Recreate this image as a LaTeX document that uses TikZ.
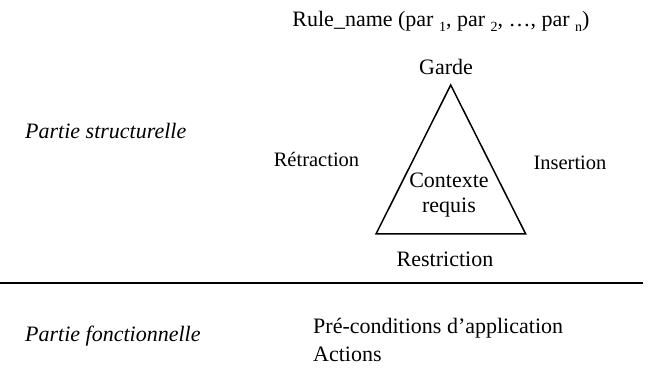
\documentclass[tikz,border=0pt]{standalone}
\usepackage{fontspec}
\setmainfont{Liberation Serif}
\usetikzlibrary{positioning}
\newcommand{\lowidx}[1]{\raisebox{-5pt}{\fontsize{14}{14}\selectfont #1}}
\begin{document}
\begin{tikzpicture}[x=1pt,y=1pt,every node/.style={inner sep=0pt,font=\fontsize{22}{26}\selectfont},side/.style={font=\fontsize{20.5}{24}\selectfont,anchor=base},part/.style={font=\fontsize{22}{26}\selectfont\itshape,anchor=base west}]
  \useasboundingbox (0,0) rectangle (651,372);
  \coordinate (top) at (450.7,287);
  \coordinate (bl) at (376,138);
  \coordinate (br) at (525.7,138);
  \node[anchor=base] (rule) at (441,345) {Rule\_name (par \lowidx{1}, par \lowidx{2}, …, par \lowidx{n})};
  \node[anchor=base] (garde) at (446,297) {Garde};
  \node[align=center,font=\fontsize{22}{25}\selectfont] (ctx) at (449,177) {Contexte\\requis};
  \node[anchor=base] (restr) at (445,105) {Restriction};
  \node[side] (retr) at (316.5,205) {Rétraction};
  \node[side] (ins) at (570,202) {Insertion};
  \node[part] (struct) at (25,233) {Partie structurelle};
  \node[part] (fonct) at (25,30) {Partie fonctionnelle};
  \node[anchor=base west] (pre) at (313,38) {Pré-conditions d’application};
  \node[below=8pt of pre.south west,anchor=north west] (act) {Actions};
  \coordinate (sepl) at (0,89);
  \coordinate (sepr) at (643,89);
  \draw[line width=1.5pt](top)--(bl)--(br)--cycle;
  \draw[line width=2pt](sepl)--(sepr);
\end{tikzpicture}
\end{document}
